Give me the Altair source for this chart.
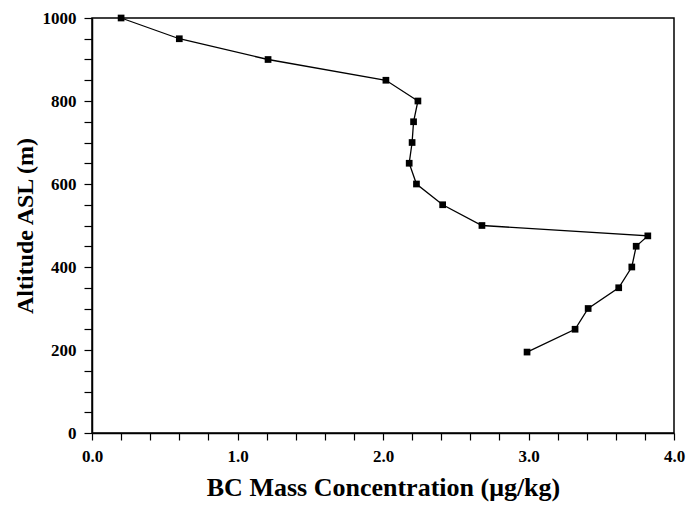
import altair as alt
import pandas as pd

# BC mass concentration profile against altitude
altitude = [1000, 950, 900, 850, 800, 750, 700, 650, 600, 550, 500, 475, 450, 400, 350, 300, 250, 195]
bc_conc = [0.20, 0.60, 1.21, 2.02, 2.24, 2.21, 2.20, 2.18, 2.23, 2.41, 2.68, 3.82, 3.74, 3.71, 3.62, 3.41, 3.32, 2.99]

x_ticks = [round(i * 0.2, 1) for i in range(21)]
y_ticks = list(range(0, 1001, 50))

df = pd.DataFrame({"alt": altitude, "bc": bc_conc})

font = "Liberation Serif"

x_enc = alt.X(
    "bc:Q",
    scale=alt.Scale(domain=[0, 4], nice=False, zero=False),
    axis=alt.Axis(
        title="BC Mass Concentration (μg/kg)",
        values=x_ticks,
        labelExpr="datum.value % 1 == 0 ? format(datum.value, '.1f') : ''",
        labelFlush=False,
        grid=False,
        tickSize=7,
        labelPadding=8,
        titlePadding=10,
        titleFontSize=26,
    ),
)
y_enc = alt.Y(
    "alt:Q",
    scale=alt.Scale(domain=[0, 1000], nice=False),
    axis=alt.Axis(
        title="Altitude ASL (m)",
        values=y_ticks,
        labelExpr="datum.value % 200 == 0 ? datum.value : ''",
        labelFlush=False,
        grid=False,
        tickSize=8,
        labelPadding=8,
        titlePadding=5,
        titleFontSize=24,
    ),
)

line = alt.Chart(df).mark_line(color="black", strokeWidth=1.3).encode(
    x=x_enc, y=y_enc, order=alt.Order("alt:Q", sort="descending")
)
points = alt.Chart(df).mark_square(color="black", opacity=1, size=45).encode(x=x_enc, y=y_enc)

chart = (
    alt.layer(line, points)
    .properties(
        width=582,
        height=415,
        autosize=alt.AutoSizeParams(type="none"),
        padding={"left": 92, "top": 18, "right": 12, "bottom": 73},
    )
    .configure_view(stroke="black", strokeWidth=1.5)
    .configure_axis(
        domainColor="black",
        domainWidth=1.5,
        tickColor="black",
        tickWidth=1.2,
        labelFont=font,
        labelFontSize=17,
        labelFontWeight="bold",
        labelColor="black",
        titleFont=font,
        titleFontWeight="bold",
        titleColor="black",
    )
)

chart.save("out.html", embed_options={"renderer": "svg", "actions": False})
